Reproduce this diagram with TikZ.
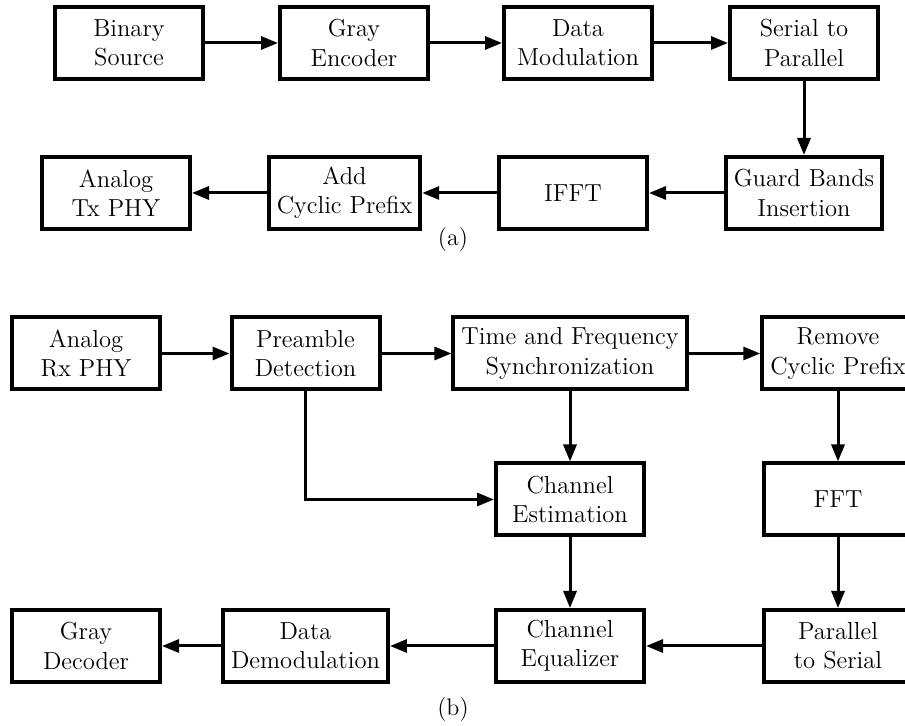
\documentclass[tikz,border=0pt]{standalone}
\usetikzlibrary{arrows.meta}
\begin{document}
\begin{tikzpicture}[x=0.5pt,y=-0.5pt,
  block/.style={draw, line width=2pt, rectangle, align=center,
    minimum width=74pt, minimum height=36pt, inner xsep=4pt,
    font=\fontsize{12.3}{14.7}\selectfont},
  flow/.style={line width=1.5pt, -{Triangle[length=8.5pt,width=6.5pt]}},
  caption/.style={font=\fontsize{12}{14}\selectfont}]
\useasboundingbox (0,0) rectangle (905,726);
\clip (0,0) rectangle (905,726);

% (a) transmitter chain
\node[block] (bin)   at (129,43)  {Binary\\Source};
\node[block] (genc)  at (354,43)  {Gray\\Encoder};
\node[block] (mod)   at (578,43)  {Data\\Modulation};
\node[block] (s2p)   at (804,43)  {Serial to\\Parallel};
\node[block] (guard) at (804,193) {Guard Bands\\Insertion};
\node[block] (ifft)  at (573,193) {IFFT};
\node[block] (acp)   at (344.5,193) {Add\\Cyclic Prefix};
\node[block] (txphy) at (116,193) {Analog\\Tx PHY};
\node[caption] (capa) at (453,240) {(a)};

\draw[flow] (bin) -- (genc);
\draw[flow] (genc) -- (mod);
\draw[flow] (mod) -- (s2p);
\draw[flow] (s2p) -- (guard);
\draw[flow] (guard) -- (ifft);
\draw[flow] (ifft) -- (acp);
\draw[flow] (acp) -- (txphy);

% (b) receiver chain
\node[block] (rxphy) at (86,353.5)  {Analog\\Rx PHY};
\node[block] (pre)   at (305.5,353.5) {Preamble\\Detection};
\node[block] (sync)  at (570,353.5) {Time and Frequency\\Synchronization};
\node[block] (rcp)   at (838,353.5) {Remove\\Cyclic Prefix};
\node[block] (est)   at (570,499.5) {Channel\\Estimation};
\node[block] (fft)   at (838,499.5) {FFT};
\node[block] (gdec)  at (86,646)    {Gray\\Decoder};
\node[block] (demod) at (305.5,646) {Data\\Demodulation};
\node[block] (eq)    at (570,646)   {Channel\\Equalizer};
\node[block] (p2s)   at (838,646)   {Parallel\\to Serial};
\node[caption] (capb) at (453,710) {(b)};

\draw[flow] (rxphy) -- (pre);
\draw[flow] (pre) -- (sync);
\draw[flow] (sync) -- (rcp);
\draw[flow] (sync) -- (est);
\draw[flow] (pre.south) |- (est.west);
\draw[flow] (rcp) -- (fft);
\draw[flow] (fft) -- (p2s);
\draw[flow] (est) -- (eq);
\draw[flow] (p2s) -- (eq);
\draw[flow] (eq) -- (demod);
\draw[flow] (demod) -- (gdec);
\end{tikzpicture}
\end{document}
